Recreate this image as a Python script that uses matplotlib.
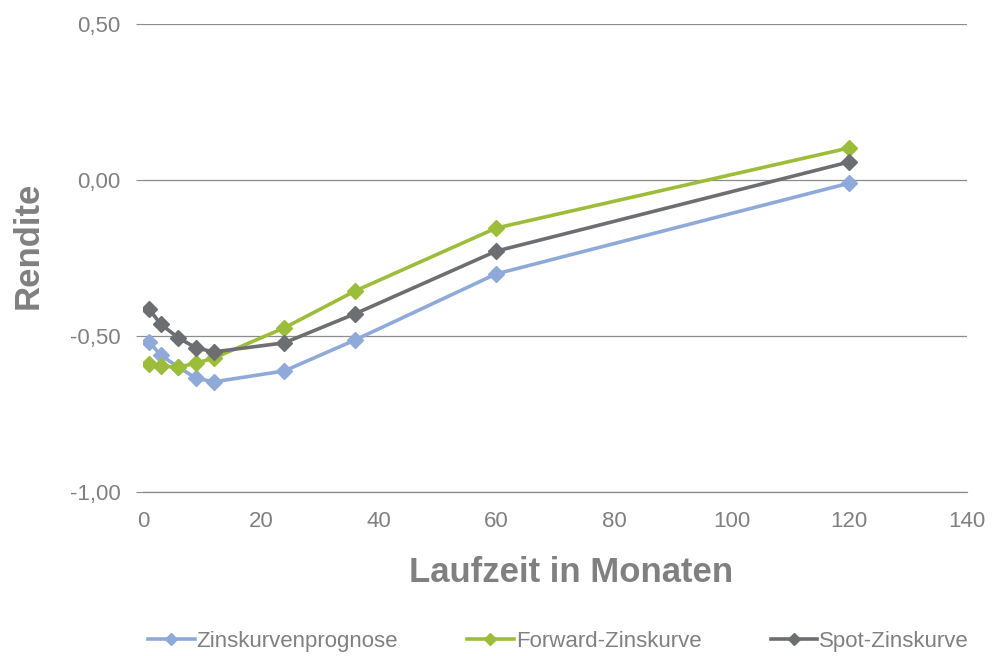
import matplotlib
matplotlib.use("Agg")
import matplotlib.pyplot as plt
from matplotlib.ticker import FuncFormatter

plt.rcParams['font.family'] = ['Liberation Sans', 'DejaVu Sans']

laufzeit = [1, 3, 6, 9, 12, 24, 36, 60, 120]
prognose = [-0.519, -0.561, -0.600, -0.635, -0.647, -0.612, -0.513, -0.301, -0.010]
forward = [-0.590, -0.596, -0.600, -0.587, -0.571, -0.474, -0.356, -0.154, 0.103]
spot = [-0.413, -0.462, -0.506, -0.538, -0.551, -0.522, -0.429, -0.228, 0.058]

series = [
    ("Zinskurvenprognose", prognose, "#8faad9"),
    ("Forward-Zinskurve", forward, "#9cbd3a"),
    ("Spot-Zinskurve", spot, "#6d6e71"),
]

text_col = "#808080"
grid_col = "#8c8c8c"

fig = plt.figure(figsize=(9.92, 6.56), dpi=100)
ax = fig.add_axes([0.1442, 0.25, 0.8306, 0.7134])

for name, vals, col in series:
    ax.plot(laufzeit, vals, color=col, lw=2.6, marker="D", ms=8,
            label=name, solid_joinstyle="round")

ax.set_xlim(0, 140)
ax.set_ylim(-1.0, 0.5)
ax.set_xticks(range(0, 141, 20))
ax.set_yticks([-1.0, -0.5, 0.0, 0.5])
ax.yaxis.set_major_formatter(FuncFormatter(lambda v, p: f"{v:.2f}".replace(".", ",")))

ax.grid(axis="y", color=grid_col, lw=0.9)
ax.set_axisbelow(True)
for s in ["top", "right", "left"]:
    ax.spines[s].set_visible(False)
ax.spines["bottom"].set_color(grid_col)
ax.spines["bottom"].set_linewidth(0.9)

ax.tick_params(axis="y", length=5, color=grid_col, labelsize=16, labelcolor=text_col, pad=11)
ax.tick_params(axis="x", length=0, labelsize=16, labelcolor=text_col, pad=14)

ax.set_xlabel("Laufzeit in Monaten", fontsize=25, fontweight="bold", color=text_col, labelpad=17)
ax.set_ylabel("Rendite", fontsize=25, fontweight="bold", color=text_col, labelpad=18)
ax.xaxis.label.set_x(0.519)
ax.yaxis.label.set_y(0.528)

fig.legend(loc="center", bbox_to_anchor=(0.563, 0.022), ncol=3, frameon=False,
           fontsize=16, labelcolor=text_col, columnspacing=3.1, handlelength=2.1,
           handletextpad=0.1, markerscale=0.75, borderpad=0.0)

fig.savefig("out.png", dpi=100)
